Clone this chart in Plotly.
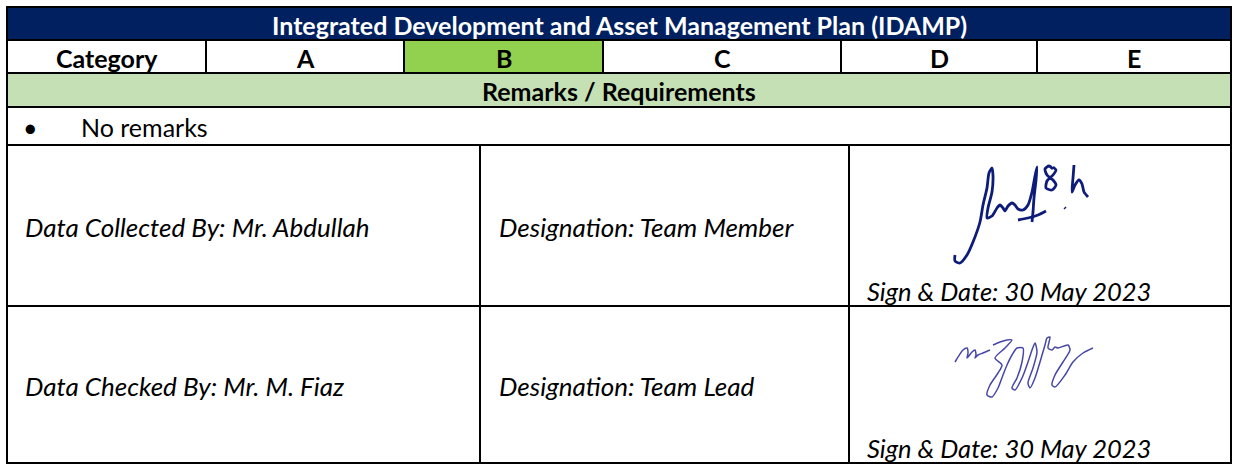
import plotly.graph_objects as go

# ---- content ----
title = "Integrated Development and Asset Management Plan (IDAMP)"
header_cells = ["Category", "A", "B", "C", "D", "E"]
highlighted = "B"
remarks_title = "Remarks / Requirements"
remarks = ["No remarks"]
people = ["Data Collected By: Mr. Abdullah", "Data Checked By: Mr. M. Fiaz"]
designations = ["Designation: Team Member", "Designation: Team Lead"]
sign_dates = ["Sign & Date: 30 May 2023", "Sign & Date: 30 May 2023"]

# ---- layout geometry (pixels) ----
X0, X1 = 7, 1231
row_y = [7, 40, 73, 107, 145, 306, 463]
head_cols = [7, 206, 404, 603, 841, 1037, 1231]
low_cols = [7, 480, 849, 1231]

NAVY = "#002060"
GREEN = "#92D050"
LIGHT_GREEN = "#C5E0B4"
FONT = "Lato"

# signature strokes (approximate pen paths, pixel coords)
sig1_strokes = [
    [(955, 255), (955, 261), (960, 263), (967, 255), (973, 242), (980, 222), (983, 205), (987, 188),
     (989, 173), (992, 168), (993, 176), (992, 192), (988, 208), (987, 218), (992, 216), (997, 208),
     (1000, 205), (1003, 208), (1005, 211), (1008, 206), (1012, 203), (1015, 205), (1018, 209),
     (1023, 210), (1028, 205), (1032, 192), (1035, 176), (1037, 167), (1036, 180), (1034, 198),
     (1033, 212), (1032, 222)],
    [(1018, 220), (1028, 218), (1038, 215), (1046, 211)],
    [(1053, 169), (1049, 166), (1045, 169), (1047, 175), (1053, 180), (1056, 185), (1052, 190),
     (1046, 188), (1047, 181), (1053, 175), (1056, 170), (1053, 167)],
    [(1064.5, 207.5), (1065.5, 208.5)],
    [(1074, 165), (1073, 178), (1072, 192), (1075, 185), (1079, 180), (1082, 184), (1084, 192),
     (1088, 197)],
]
sig2_strokes = [
    [(955, 362), (963, 350), (967, 348), (968, 353), (967, 358), (972, 352), (975, 350), (976, 355),
     (975, 358), (978, 355), (983, 353), (990, 350)],
    [(993, 345), (1000, 342), (1007, 340), (1012, 340), (1005, 348), (995, 358), (1002, 365),
     (998, 373), (990, 385), (987, 395), (992, 397), (998, 388), (1003, 375), (1007, 365),
     (1012, 355), (1017, 348), (1023, 348), (1022, 362), (1017, 378), (1012, 388), (1015, 390),
     (1022, 378), (1028, 362), (1032, 350), (1035, 343), (1037, 352), (1033, 368), (1028, 383),
     (1030, 388), (1035, 378), (1040, 362), (1045, 345), (1047, 338), (1050, 337), (1048, 348),
     (1052, 350), (1055, 347), (1058, 348), (1068, 345), (1070, 350), (1063, 362), (1055, 375),
     (1052, 385), (1055, 387), (1065, 375), (1073, 362), (1083, 353), (1093, 348)],
]

fig = go.Figure()

shapes = []
def rect(x0, y0, x1, y1, fill):
    shapes.append(dict(type="rect", x0=x0, y0=y0, x1=x1, y1=y1, fillcolor=fill,
                       line=dict(width=0), layer="below"))
def line(x0, y0, x1, y1, w=2):
    shapes.append(dict(type="line", x0=x0, y0=y0, x1=x1, y1=y1,
                       line=dict(color="black", width=w), layer="above"))

rect(X0, row_y[0], X1, row_y[1], NAVY)
hi = header_cells.index(highlighted)
rect(head_cols[hi], row_y[1], head_cols[hi + 1], row_y[2], GREEN)
rect(X0, row_y[2], X1, row_y[3], LIGHT_GREEN)

for y in row_y:
    line(X0 - 1, y, X1 + 1, y)
line(X0, row_y[0], X0, row_y[-1])
line(X1, row_y[0], X1, row_y[-1])
for x in head_cols[1:-1]:
    line(x, row_y[1], x, row_y[2])
for x in low_cols[1:-1]:
    line(x, row_y[4], x, row_y[6])

ann = []
def text(x, y, s, size=25, color="black", bold=False, italic=False, xanchor="center"):
    if bold:
        s = "<b>" + s + "</b>"
    if italic:
        s = "<i>" + s + "</i>"
    ann.append(dict(x=x, y=y, text=s, showarrow=False, xanchor=xanchor, yanchor="middle",
                    font=dict(family=FONT, size=size, color=color)))

text((X0 + X1) / 2, (row_y[0] + row_y[1]) / 2 + 1, title, size=25, color="white", bold=True)
for i, c in enumerate(header_cells):
    text((head_cols[i] + head_cols[i + 1]) / 2, (row_y[1] + row_y[2]) / 2 + 1, c, size=25, bold=True)
text((X0 + X1) / 2, (row_y[2] + row_y[3]) / 2 + 1, remarks_title, size=25, bold=True)
for r in remarks:
    text(30, (row_y[3] + row_y[4]) / 2 + 1, "•", size=25)
    text(79, (row_y[3] + row_y[4]) / 2 + 1, r, size=25, xanchor="left")

for k in range(2):
    yc = (row_y[4 + k] + row_y[5 + k]) / 2
    text(23, yc + 1, people[k], size=26, italic=True, xanchor="left")
    text(497, yc + 1, designations[k], size=26, italic=True, xanchor="left")
    text(865, row_y[5 + k] - 15, sign_dates[k], size=25.5, italic=True, xanchor="left")

for st in sig1_strokes:
    fig.add_trace(go.Scatter(x=[p[0] for p in st], y=[p[1] for p in st], mode="lines",
                             line=dict(color="#0d1b7a", width=2.8, shape="spline", smoothing=0.7),
                             hoverinfo="skip", showlegend=False))
for st in sig2_strokes:
    fig.add_trace(go.Scatter(x=[p[0] for p in st], y=[p[1] for p in st], mode="lines",
                             line=dict(color="#4646a6", width=1.5, shape="spline", smoothing=0.7),
                             hoverinfo="skip", showlegend=False))

fig.update_layout(
    width=1238, height=464, margin=dict(l=0, r=0, t=0, b=0),
    paper_bgcolor="white", plot_bgcolor="white",
    xaxis=dict(range=[0, 1238], visible=False, fixedrange=True),
    yaxis=dict(range=[464, 0], visible=False, fixedrange=True),
    shapes=shapes, annotations=ann, showlegend=False,
)
fig.write_html("out.html", config={"displayModeBar": False},
               post_script="document.body.style.margin='0px';document.body.style.overflow='hidden';")
